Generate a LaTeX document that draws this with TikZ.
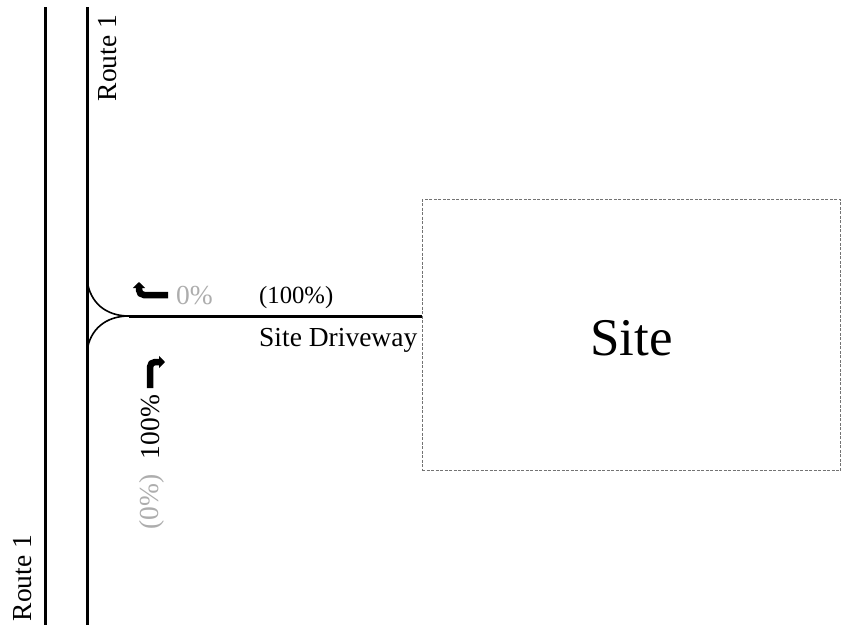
\documentclass[tikz,border=0pt]{standalone}
\usepackage{fontspec}
\setmainfont{Liberation Serif}
\usetikzlibrary{arrows.meta}
\definecolor{lightgraytext}{gray}{0.68}
\tikzset{
  road/.style={line width=3pt,black},
  flare/.style={line width=1.6pt,black},
  sitebox/.style={draw=black!55,dash pattern=on 3pt off 1.5pt,line width=1.3pt,inner sep=0pt,minimum width=418.5pt,minimum height=271pt},
  sitetext/.style={inner sep=0pt,font=\fontsize{53}{53}\selectfont},
  lbl/.style={inner sep=0pt,font=\fontsize{27.5}{29}\selectfont},
  lblsmall/.style={inner sep=0pt,font=\fontsize{24.7}{27}\selectfont},
  turn/.style={line width=6.5pt,black,rounded corners=5pt,-{Triangle[length=6pt,width=12pt]}},
}
\begin{document}
\begin{tikzpicture}[x=1pt,y=-1pt]
\useasboundingbox (0,0) rectangle (841,635);
\coordinate (a1) at (45.5,7); \coordinate (a2) at (45.5,625);
\coordinate (b1) at (87.5,7); \coordinate (b2) at (87.5,625);
\coordinate (f1) at (87,280); \coordinate (f2) at (87,351); \coordinate (f) at (129,316);
\node[sitebox,anchor=north west] (site) at (421.5,199) {};
\node[sitetext] (sitelabel) at (631.5,338) {Site};
\coordinate (d) at (site.west |- f);
\draw[road] (a1) -- (a2);
\draw[road] (b1) -- (b2);
\draw[road] (f) -- (d);
\draw[flare] (f1) .. controls (90,303) and (106,316) .. (f);
\draw[flare] (f2) .. controls (90,329) and (106,316) .. (f);
\node[lbl,rotate=90] (r1) at (108,58) {Route 1};
\node[lbl,rotate=90] (r2) at (23,578) {Route 1};
\node[lbl,text=lightgraytext,anchor=west] (p0) at (176,296) {0\%};
\node[lblsmall,anchor=west] (p100) at (259,298) {(100\%)};
\node[lbl,anchor=west] (sd) at (259,340) {Site Driveway};
\node[lbl,rotate=90] (v100) at (151,427) {100\%};
\node[lbl,rotate=90,text=lightgraytext] (v0) at (152,502) {(0\%)};
\coordinate (t1a) at (168,295); \coordinate (t1b) at (139,295); \coordinate (t1c) at (139,282);
\coordinate (t2a) at (150,388); \coordinate (t2b) at (150,362); \coordinate (t2c) at (165,362);
\draw[turn] (t1a) -- (t1b) -- (t1c);
\draw[turn] (t2a) -- (t2b) -- (t2c);
\end{tikzpicture}
\end{document}
